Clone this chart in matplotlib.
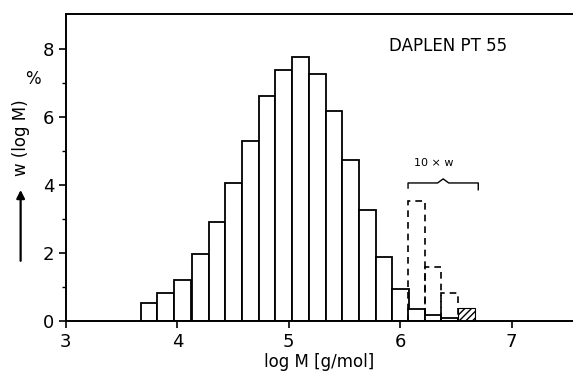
import matplotlib
matplotlib.use("Agg")
import matplotlib.pyplot as plt

# molar mass distribution, DAPLEN PT 55
bin_left = [3.67, 3.82, 3.97, 4.13, 4.28, 4.43, 4.58, 4.73, 4.88, 5.03,
            5.18, 5.33, 5.48, 5.63, 5.78, 5.93, 6.07, 6.22, 6.37]
w_logM = [0.52, 0.81, 1.21, 1.97, 2.91, 4.05, 5.29, 6.62, 7.40, 7.77,
          7.28, 6.18, 4.74, 3.26, 1.87, 0.94, 0.34, 0.16, 0.08]

# tail enlarged 10x (dashed)
tail_left = [6.07, 6.22, 6.37]
tail_10w = [3.53, 1.60, 0.81]

# hatched bin
hatch_left = [6.52]
hatch_w = [0.37]

bin_width = 0.15

plt.rcParams['font.family'] = ['DejaVu Sans']
fig = plt.figure(figsize=(5.73, 3.82), dpi=100)
ax = fig.add_axes([0.115, 0.16, 0.885, 0.803])

ax.bar(bin_left, w_logM, width=bin_width, align='edge',
       facecolor='white', edgecolor='black', linewidth=1.3)
ax.bar(tail_left, tail_10w, width=bin_width, align='edge',
       facecolor='none', edgecolor='black', linewidth=1.2, linestyle=(0, (4, 3)))
ax.bar(hatch_left, hatch_w, width=bin_width, align='edge',
       facecolor='white', edgecolor='black', linewidth=0.8, hatch='/////')

# bracket over the 10x part
x0 = tail_left[0]
x1 = hatch_left[0] + bin_width + 0.03
xm = (x0 + x1) / 2
yb = 4.06
ax.plot([x0, x0, xm - 0.05, xm, xm + 0.05, x1, x1],
        [yb - 0.15, yb, yb, yb + 0.12, yb, yb, yb - 0.2],
        color='black', linewidth=1.0)
ax.text(xm - 0.08, yb + 0.45, '10 × w', fontsize=8, ha='center', va='bottom')

ax.text(5.9, 8.1, 'DAPLEN PT 55', fontsize=12, ha='left', va='center')

ax.set_xlim(3, 7.55)
ax.set_ylim(0, 9.03)
ax.set_xticks([3, 4, 5, 6, 7])
ax.set_yticks([0, 2, 4, 6, 8])
ax.set_yticks([1, 3, 5, 7], minor=True)
ax.tick_params(axis='both', labelsize=13, width=1.2, length=5)
ax.tick_params(axis='y', which='minor', length=3, width=1)
ax.spines['right'].set_visible(False)
for s in ['left', 'bottom', 'top']:
    ax.spines[s].set_linewidth(1.4)

ax.set_xlabel('log M [g/mol]', fontsize=12, labelpad=2)
ax.text(-0.065, 0.79, '%', transform=ax.transAxes, fontsize=12,
        ha='center', va='center')

# y label with arrow
fig.text(0.036, 0.64, 'w (log M)', rotation=90, fontsize=12,
         ha='center', va='center')
ax.annotate('', xy=(0.036, 0.51), xytext=(0.036, 0.31),
            xycoords='figure fraction', textcoords='figure fraction',
            arrowprops=dict(arrowstyle='-|>', color='black', lw=1.6,
                            mutation_scale=12))

fig.savefig('out.png', dpi=100)
